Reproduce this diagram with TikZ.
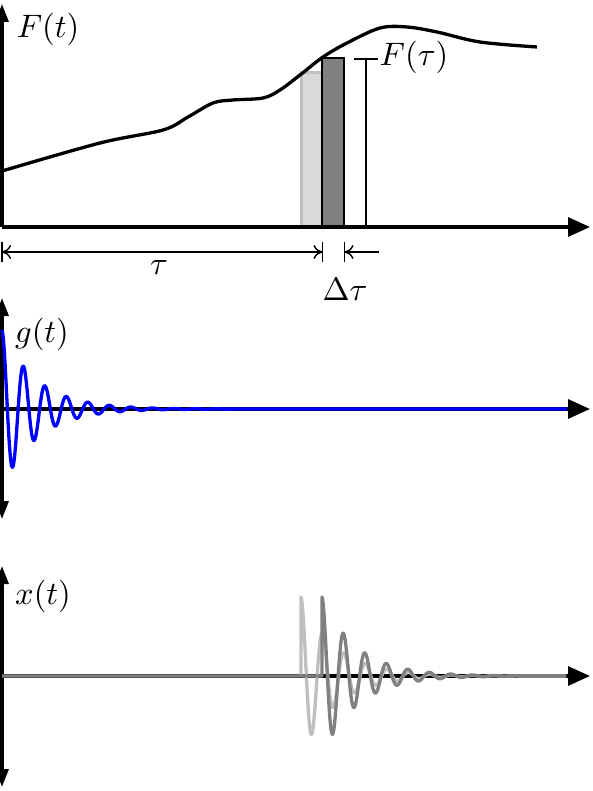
\documentclass[tikz,border=0pt]{standalone}
\usepackage{graphicx}
\usetikzlibrary{arrows.meta}
\tikzset{
  axisline/.style={line width=3.2pt, black},
  xtip/.style={-{Triangle[length=22pt,width=19pt]}},
  ytip/.style={-{Triangle[length=18pt,width=13pt]}},
  ytipboth/.style={{Triangle[length=18pt,width=13pt]}-{Triangle[length=18pt,width=13pt]}},
  fcurve/.style={line width=3.3pt, black, line join=round},
  lightbar/.style={fill=gray!30, draw=gray!50, line width=3pt},
  darkbar/.style={fill=gray, draw=black, line width=2.8pt},
  thinline/.style={line width=1.4pt, black},
  dimline/.style={line width=1.4pt, black},
  dimboth/.style={{To[length=9pt,width=14pt]}-{To[length=9pt,width=14pt]}},
  dimstart/.style={{To[length=9pt,width=14pt]}-},
  gcurve/.style={blue, line width=3.3pt, line join=round},
  lightcurve/.style={gray!50, line width=3.3pt, line join=round},
  darkcurve/.style={gray, line width=3.3pt, line join=round},
  lbl/.style={inner sep=0pt}
}
\newcommand{\bigmath}[1]{\scalebox{3.25}{$#1$}}
\begin{document}
\begin{tikzpicture}[x=1pt,y=-1pt]
\useasboundingbox (0,0) rectangle (592,791);
% ---------------- panel 1 ----------------
\draw[lightbar] (301,73) rectangle (322,227);
\draw[darkbar] (322,58) rectangle (344,227);
\coordinate (fbase) at (366,227);
\coordinate (ftop) at (366,59);
\coordinate (fl) at (354,59);
\coordinate (fr) at (378,59);
\draw[thinline] (fbase) -- (ftop);
\draw[thinline] (fl) -- (fr);
\coordinate (o1) at (2,227);
\coordinate (x1) at (590,227);
\coordinate (y1) at (2,4);
\draw[axisline, xtip] (o1) -- (x1);
\draw[axisline, ytip] (o1) -- (y1);
\draw[fcurve] plot[smooth, tension=0.55] coordinates {
 (2,171) (100,143) (163,130) (188,117) (213,103) (233,100) (263,98)
 (280,90) (300,75) (323,57) (347,43) (380,28) (407,27) (437,32)
 (480,42) (537,47)};
\node[lbl] (Ft) at (48,29) {\bigmath{F(t)}};
\node[lbl] (Ftau) at (414,57) {\bigmath{F(\tau)}};
% dimensions
\coordinate (d0) at (2,252);
\coordinate (d1) at (322.5,252);
\coordinate (d2) at (344.5,252);
\coordinate (d3) at (379,252);
\foreach \c in {d0,d1,d2}{
  \draw[dimline] ([yshift=10pt]\c) -- ([yshift=-10pt]\c);
}
\draw[dimline, dimboth] (d0) -- (d1);
\draw[dimline, dimstart] (d2) -- (d3);
\node[lbl] (tau) at (159,268) {\bigmath{\tau}};
\node[lbl] (dtau) at (345,289) {\bigmath{\Delta\tau}};
% ---------------- panel 2 ----------------
\coordinate (o2) at (2,409);
\coordinate (x2) at (590,409);
\coordinate (yt2) at (2,298);
\coordinate (yb2) at (2,519);
\draw[axisline, ytipboth] (yb2) -- (yt2);
\draw[axisline, xtip] (o2) -- (x2);
\draw[gcurve] plot[domain=0:240, samples=480] ({\x+2},{409-79*exp(-\x/35)*cos(\x*16.744)}) -- (567,409);
\node[lbl] (gt) at (42,334) {\bigmath{g(t)}};
% ---------------- panel 3 ----------------
\coordinate (o3) at (2,676);
\coordinate (x3) at (590,676);
\coordinate (yt3) at (2,566);
\coordinate (yb3) at (2,787);
\draw[axisline, ytipboth] (yb3) -- (yt3);
\draw[axisline, xtip] (o3) -- (x3);
\draw[lightcurve] (301,676) -- plot[domain=0:220, samples=440] ({\x+301},{676-79*exp(-\x/35)*cos(\x*16.744)}) -- (566,676);
\draw[darkcurve] (o3) -- (322,676) -- plot[domain=0:220, samples=440] ({\x+322},{676-79*exp(-\x/35)*cos(\x*16.744)}) -- (566,676);
\node[lbl] (xt) at (43,596) {\bigmath{x(t)}};
\end{tikzpicture}
\end{document}
